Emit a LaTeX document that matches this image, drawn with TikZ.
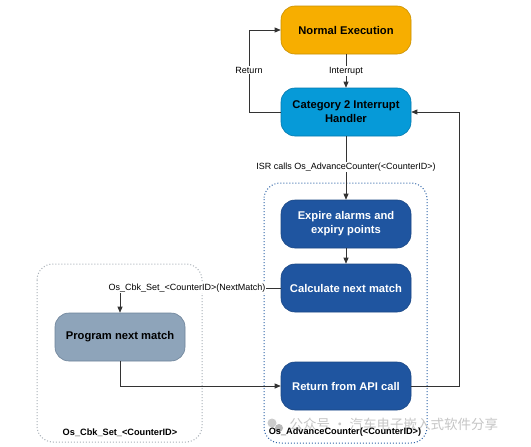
\documentclass[tikz,border=0pt]{standalone}
\usepackage{fontspec}
\setmainfont{Liberation Sans}
\newfontfamily\cjk{Noto Sans CJK SC}
\usetikzlibrary{arrows.meta}
\definecolor{orangef}{HTML}{F7AE00}
\definecolor{oranged}{HTML}{C99000}
\definecolor{cyanf}{HTML}{069AD8}
\definecolor{cyand}{HTML}{0479AE}
\definecolor{navyf}{HTML}{1F55A0}
\definecolor{navyd}{HTML}{1A4785}
\definecolor{grayf}{HTML}{8EA4BA}
\definecolor{grayd}{HTML}{6E8399}
\definecolor{lineg}{HTML}{333333}
\definecolor{dotb}{HTML}{2F64A8}
\definecolor{dotg}{HTML}{A8B0B8}
\tikzset{
  x=1pt,y=-1pt,
  box/.style={rounded corners=14pt,minimum width=130pt,minimum height=48pt,align=center,
    font=\fontsize{11.2}{13.8}\selectfont\bfseries,inner sep=2pt,line width=0.6pt},
  orangebox/.style={box,fill=orangef,draw=oranged,text=black},
  cyanbox/.style={box,fill=cyanf,draw=cyand,text=black},
  navybox/.style={box,fill=navyf,draw=navyd,text=white},
  graybox/.style={box,fill=grayf,draw=grayd,text=black},
  conn/.style={draw=lineg,line width=0.7pt,-{Triangle[length=6pt,width=5pt]}},
  lbl/.style={font=\fontsize{9}{10.5}\selectfont,fill=white,inner sep=1pt,text=black},
  grp/.style={rounded corners=16pt,dotted,line width=1pt},
  grplbl/.style={font=\fontsize{9.2}{10.5}\selectfont\bfseries,inner sep=1pt}
}
\begin{document}
\begin{tikzpicture}
\useasboundingbox[fill=white] (0,0) rectangle (531,447);
% groups
\draw[grp,draw=dotb] (264,183) rectangle (427,443);
\draw[grp,draw=dotg] (37,264) rectangle (202,442);
% nodes
\node[orangebox] (ne) at (346,30) {Normal Execution};
\node[cyanbox] (c2) at (346,112) {Category 2 Interrupt\\Handler};
\node[navybox] (ex) at (346,224) {Expire alarms and\\expiry points};
\node[navybox] (cn) at (346,288) {Calculate next match};
\node[navybox] (rt) at (346,386) {Return from API call};
\node[graybox] (pm) at (120,337) {Program next match};
\coordinate (rl) at (249,0);
\coordinate (rr) at (459,0);
% connectors
\draw[conn] (ne) -- node[lbl]{Interrupt} (c2);
\draw[conn] (c2.west) -| (rl |- ne.west) -- (ne.west);
\node[lbl] (retl) at (249,70) {Return};
\draw[conn] (c2.south) -- (ex.north);
\node[lbl] (isr) at (346,167) {ISR calls Os\_AdvanceCounter(<CounterID>)};
\draw[conn] (ex) -- (cn);
\draw[conn] (cn.west) -| (pm.north);
\node[lbl] (cbk) at (187,288) {Os\_Cbk\_Set\_<CounterID>(NextMatch)};
\draw[conn] (pm.south) |- (rt.west);
\draw[conn] (rt.east) -| (rr |- c2.east) -- (c2.east);
% watermark
\fill[gray!40] (272,423) circle (4.5pt);
\fill[gray!55] (279,428) circle (4pt);
\node[text=gray!45,font=\cjk\fontsize{13.5}{15}\selectfont,anchor=west] (wm) at (286,424) {公众号 · 汽车电子嵌入式软件分享};
% group labels
\node[grplbl] (g1) at (345,432) {Os\_AdvanceCounter(<CounterID>)};
\node[grplbl] (g2) at (120,433) {Os\_Cbk\_Set\_<CounterID>};
\end{tikzpicture}
\end{document}
